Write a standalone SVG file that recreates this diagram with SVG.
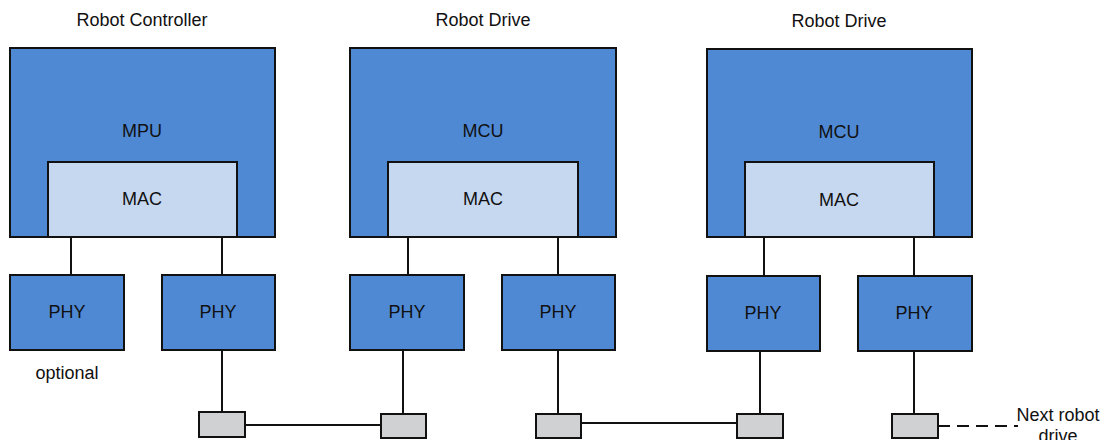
<svg xmlns="http://www.w3.org/2000/svg" width="1104" height="440" viewBox="0 0 1104 440">
<style>
.blk{fill:#4f89d4;stroke:#111;stroke-width:2}
.mac{fill:#c6d8ef;stroke:#111;stroke-width:2}
.port{fill:#d0d1d3;stroke:#111;stroke-width:2}
.t{font-family:"Liberation Sans",Arial,sans-serif;font-size:18px;fill:#111;text-anchor:middle}
.c{stroke:#111;stroke-width:2;fill:none}
</style>
<rect width="1104" height="440" fill="#fff"/>
<text class="t" x="142" y="26">Robot Controller</text>
<text class="t" x="483" y="26">Robot Drive</text>
<text class="t" x="839" y="27">Robot Drive</text>
<g id="connectors">
<line class="c" x1="71" y1="237" x2="71" y2="275"/>
<line class="c" x1="222" y1="237" x2="222" y2="275"/>
<line class="c" x1="408" y1="237" x2="408" y2="275"/>
<line class="c" x1="558" y1="237" x2="558" y2="275"/>
<line class="c" x1="764" y1="237" x2="764" y2="275"/>
<line class="c" x1="914" y1="237" x2="914" y2="275"/>
<line class="c" x1="222" y1="350" x2="222" y2="412"/>
<line class="c" x1="403" y1="350" x2="403" y2="414"/>
<line class="c" x1="558" y1="350" x2="558" y2="414"/>
<line class="c" x1="760" y1="351" x2="760" y2="414"/>
<line class="c" x1="914" y1="351" x2="914" y2="414"/>
<line class="c" x1="245" y1="425" x2="381" y2="425"/>
<line class="c" x1="581" y1="423" x2="737" y2="423"/>
<line class="c" x1="938" y1="426" x2="1018" y2="426" stroke-dasharray="12,7"/>
</g>
<g id="controller">
<rect class="blk" x="10" y="48" width="265" height="189"/>
<text class="t" x="142" y="137">MPU</text>
<rect class="mac" x="48" y="162" width="189" height="75"/>
<text class="t" x="142" y="205">MAC</text>
</g>
<g id="drive1">
<rect class="blk" x="350" y="48" width="266" height="189"/>
<text class="t" x="483" y="137">MCU</text>
<rect class="mac" x="388" y="162" width="190" height="75"/>
<text class="t" x="483" y="205">MAC</text>
</g>
<g id="drive2">
<rect class="blk" x="707" y="49" width="265" height="188"/>
<text class="t" x="839" y="138">MCU</text>
<rect class="mac" x="745" y="162" width="189" height="75"/>
<text class="t" x="839" y="206">MAC</text>
</g>
<g id="phy1"><rect class="blk" x="10" y="275" width="114" height="75"/><text class="t" x="67" y="318">PHY</text></g>
<g id="phy2"><rect class="blk" x="162" y="275" width="113" height="75"/><text class="t" x="218" y="318">PHY</text></g>
<g id="phy3"><rect class="blk" x="350" y="275" width="114" height="75"/><text class="t" x="407" y="318">PHY</text></g>
<g id="phy4"><rect class="blk" x="502" y="275" width="113" height="75"/><text class="t" x="558" y="318">PHY</text></g>
<g id="phy5"><rect class="blk" x="707" y="276" width="113" height="75"/><text class="t" x="763" y="319">PHY</text></g>
<g id="phy6"><rect class="blk" x="858" y="276" width="114" height="75"/><text class="t" x="914" y="319">PHY</text></g>
<text class="t" x="67" y="379">optional</text>
<g id="port1"><rect class="port" x="199" y="412" width="46" height="25"/></g>
<g id="port2"><rect class="port" x="381" y="414" width="45" height="24"/></g>
<g id="port3"><rect class="port" x="536" y="414" width="45" height="24"/></g>
<g id="port4"><rect class="port" x="737" y="414" width="46" height="24"/></g>
<g id="port5"><rect class="port" x="892" y="414" width="46" height="24"/></g>
<text class="t" x="1058" y="421">Next robot</text>
<text class="t" x="1058" y="442">drive</text>
</svg>
